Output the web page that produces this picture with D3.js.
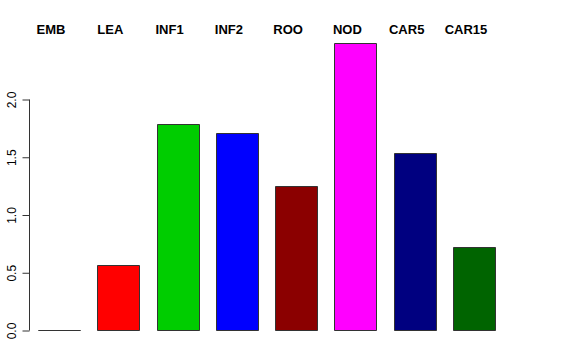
<!DOCTYPE html>
<html lang="en">
	<head>
		<meta charset="utf-8">
		<title>Barplot</title>
		<script type="text/javascript" src="https://cdn.jsdelivr.net/npm/d3@7"></script>
		<style type="text/css">
			body { margin: 0; background: white; }
			svg text { font-family: "Liberation Sans", Arial, sans-serif; }
		</style>
	</head>
	<body>
		<script type="text/javascript">

			//Width and height
			var w = 576;
			var h = 360;

			var categories = ["EMB", "LEA", "INF1", "INF2", "ROO", "NOD", "CAR5", "CAR15"];
			var values = [0, 0.563, 1.781, 1.708, 1.244, 2.487, 1.530, 0.721];
			var colors = ["#000000", "#FF0000", "#00CD00", "#0000FF", "#8B0000", "#FF00FF", "#000080", "#006400"];
			var yTicks = [0, 0.5, 1, 1.5, 2];

			var xScale = d3.scaleBand()
							.domain(categories)
							.range([38, 495])
							.paddingInner(0.29)
							.paddingOuter(0);

			var yScale = d3.scaleLinear()
							.domain([0, 2])
							.range([330, 99]);

			var svg = d3.select("body")
						.append("svg")
						.attr("width", w)
						.attr("height", h);

			//Bars as closed paths so a zero bar still shows its outline
			svg.selectAll("path.bar")
			   .data(values)
			   .enter()
			   .append("path")
			   .attr("class", "bar")
			   .attr("d", function(d, i) {
			   		var x0 = Math.round(xScale(categories[i])) + 0.5;
			   		var x1 = x0 + Math.round(xScale.bandwidth());
			   		var y0 = Math.round(yScale(0)) + 0.5;
			   		var y1 = Math.round(yScale(d)) + 0.5;
			   		return "M" + x0 + "," + y0 + "V" + y1 + "H" + x1 + "V" + y0 + "Z";
			   })
			   .attr("fill", function(d, i) { return colors[i]; })
			   .attr("stroke", "#333")
			   .attr("stroke-width", 1);

			//Category labels along the top
			svg.selectAll("text.cat")
			   .data(categories)
			   .enter()
			   .append("text")
			   .attr("class", "cat")
			   .text(function(d) { return d; })
			   .attr("text-anchor", "middle")
			   .attr("x", function(d) { return xScale(d) + xScale.bandwidth() / 2 - 8; })
			   .attr("y", 34)
			   .attr("font-size", "13px")
			   .attr("font-weight", "bold")
			   .attr("fill", "black");

			//Y axis
			var yAxis = d3.axisLeft(yScale)
						  .tickValues(yTicks)
						  .tickSize(7)
						  .tickFormat(d3.format(".1f"));

			var gy = svg.append("g")
						.attr("transform", "translate(29.5,0.5)")
						.call(yAxis);

			gy.select(".domain")
			  .attr("d", "M0," + Math.round(yScale(2)) + "V" + Math.round(yScale(0)))
			  .attr("stroke", "#333");
			gy.selectAll(".tick line").attr("stroke", "#333");
			gy.selectAll(".tick text")
			  .attr("x", null)
			  .attr("dy", null)
			  .attr("transform", "translate(-14,0) rotate(-90)")
			  .attr("text-anchor", "middle")
			  .attr("font-size", "12px")
			  .attr("font-family", "Liberation Sans, Arial, sans-serif")
			  .attr("fill", "black");

		</script>
	</body>
</html>
